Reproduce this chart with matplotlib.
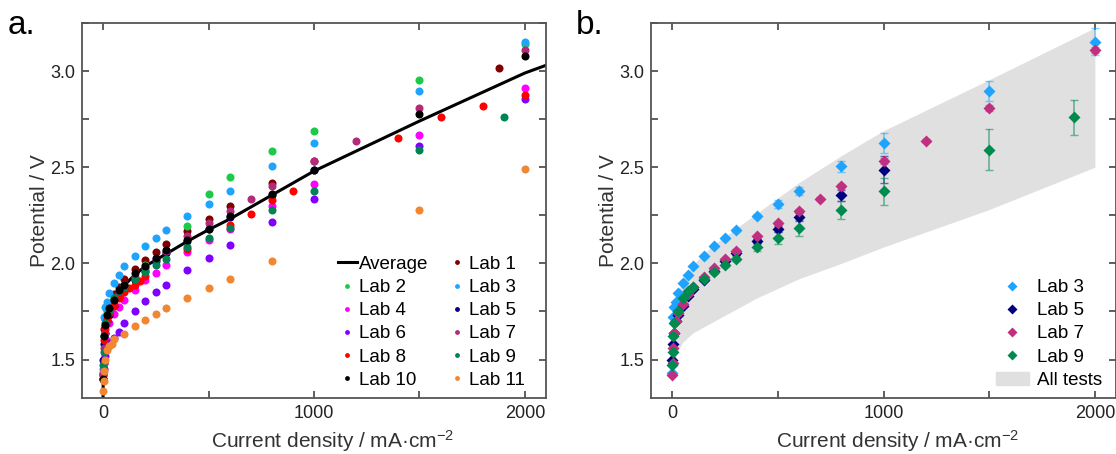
import numpy as np
import matplotlib
matplotlib.use('Agg')
import matplotlib.pyplot as plt
from matplotlib.lines import Line2D
from matplotlib.patches import Patch
from matplotlib.ticker import MultipleLocator, FuncFormatter

plt.rcParams['font.family'] = ['Liberation Sans', 'DejaVu Sans']
plt.rcParams['mathtext.fontset'] = 'custom'
plt.rcParams['mathtext.rm'] = 'Liberation Sans'
plt.rcParams['mathtext.it'] = 'Liberation Sans:italic'

# ---- data (current density mA/cm2, potential V) ----
avg_j = [0, 1, 2, 5, 10, 20, 30, 50, 75, 100, 150, 200, 300, 400, 500, 600, 800, 1000, 1500, 2000, 2100]
avg_v = [1.31, 1.45, 1.52, 1.60, 1.66, 1.72, 1.76, 1.81, 1.85, 1.885, 1.94, 1.985, 2.05, 2.115, 2.175,
         2.23, 2.355, 2.48, 2.74, 2.99, 3.03]

lab1_j = [0, 5, 10, 20, 30, 50, 75, 100, 150, 200, 250, 300, 400, 500, 600, 800, 1000, 1875]
lab1_v = [1.40, 1.66, 1.71, 1.76, 1.79, 1.84, 1.875, 1.917, 1.972, 2.017, 2.06, 2.099, 2.167, 2.23, 2.30,
          2.42, 2.53, 3.014]

lab2_j = [0, 5, 10, 20, 50, 100, 200, 300, 400, 500, 600, 800, 1000, 1500, 2000]
lab2_v = [1.45, 1.62, 1.68, 1.74, 1.82, 1.89, 1.99, 2.06, 2.194, 2.36, 2.45, 2.585, 2.69, 2.953, 3.14]

lab3_j = [0, 5, 10, 20, 30, 50, 75, 100, 150, 200, 250, 300, 400, 500, 600, 800, 1000, 1500, 2000]
lab3_v = [1.43, 1.72, 1.775, 1.80, 1.845, 1.90, 1.94, 1.985, 2.04, 2.09, 2.13, 2.172, 2.246, 2.31, 2.375,
          2.505, 2.625, 2.897, 3.153]
lab3_err = [0, 0, 0, 0, 0, 0, 0, 0, 0, 0.005, 0.005, 0.008, 0.01, 0.02, 0.02, 0.03, 0.052, 0.05, 0.07]

lab4_j = [0, 5, 10, 15, 30, 50, 75, 100, 150, 200, 250, 300, 400, 500, 600, 800, 1000, 1500, 2000]
lab4_v = [1.43, 1.50, 1.54, 1.60, 1.69, 1.735, 1.775, 1.81, 1.86, 1.911, 1.948, 1.99, 2.058, 2.12, 2.18,
          2.30, 2.415, 2.67, 2.913]

lab5_j = [0, 5, 10, 20, 30, 50, 75, 100, 150, 200, 250, 300, 400, 500, 600, 800, 1000]
lab5_v = [1.50, 1.58, 1.64, 1.70, 1.73, 1.78, 1.83, 1.868, 1.915, 1.962, 2.01, 2.054, 2.118, 2.18, 2.241,
          2.354, 2.488]
lab5_err = [0, 0, 0, 0, 0, 0, 0, 0, 0.005, 0.008, 0.008, 0.01, 0.01, 0.015, 0.02, 0.03, 0.07]

lab6_j = [0, 2, 5, 10, 20, 30, 50, 75, 100, 150, 200, 250, 300, 400, 500, 600, 800, 1000, 1500, 2000]
lab6_v = [1.42, 1.45, 1.48, 1.52, 1.56, 1.585, 1.61, 1.642, 1.69, 1.752, 1.804, 1.85, 1.887, 1.965, 2.03,
          2.095, 2.215, 2.335, 2.61, 2.853]

lab7_j = [0, 2, 5, 10, 20, 30, 50, 75, 100, 150, 200, 250, 300, 400, 500, 600, 700, 800, 1000, 1200, 1500, 2000]
lab7_v = [1.42, 1.48, 1.56, 1.64, 1.70, 1.74, 1.79, 1.84, 1.875, 1.93, 1.976, 2.022, 2.066, 2.14, 2.21,
          2.274, 2.337, 2.40, 2.531, 2.639, 2.81, 3.108]
lab7_err = [0, 0, 0, 0, 0, 0, 0, 0, 0, 0, 0.005, 0.005, 0.008, 0.01, 0.01, 0.01, 0.01, 0.012, 0.015, 0.01,
            0.015, 0.015]

lab8_j = [0, 5, 10, 20, 30, 50, 75, 100, 125, 150, 175, 200, 400, 600, 700, 800, 900, 1400, 1600, 1800, 2000]
lab8_v = [1.40, 1.60, 1.66, 1.71, 1.74, 1.78, 1.82, 1.85, 1.87, 1.89, 1.91, 1.935, 2.073, 2.20, 2.255,
          2.33, 2.375, 2.65, 2.76, 2.82, 2.875]

lab9_j = [0, 2, 5, 10, 30, 50, 75, 100, 150, 200, 250, 300, 400, 500, 600, 800, 1000, 1500, 1900]
lab9_v = [1.47, 1.54, 1.62, 1.69, 1.75, 1.82, 1.854, 1.875, 1.92, 1.955, 1.99, 2.024, 2.083, 2.132, 2.184,
          2.28, 2.375, 2.592, 2.76]
lab9_err = [0, 0, 0, 0, 0, 0, 0, 0, 0.005, 0.008, 0.01, 0.012, 0.02, 0.03, 0.04, 0.047, 0.07, 0.108, 0.09]

lab10_j = [0, 5, 10, 20, 30, 50, 75, 100, 150, 200, 250, 300, 400, 500, 600, 800, 1000, 1500, 2000]
lab10_v = [1.40, 1.62, 1.68, 1.73, 1.77, 1.81, 1.86, 1.89, 1.948, 1.986, 2.03, 2.07, 2.12, 2.18, 2.245,
           2.36, 2.485, 2.775, 3.076]

lab11_j = [0, 2, 5, 10, 20, 30, 40, 50, 100, 150, 200, 250, 300, 400, 500, 600, 800, 1500, 2000]
lab11_v = [1.335, 1.387, 1.44, 1.50, 1.55, 1.57, 1.58, 1.608, 1.635, 1.672, 1.705, 1.736, 1.766, 1.818,
           1.87, 1.92, 2.01, 2.28, 2.493]

band_j = [0, 5, 10, 20, 30, 50, 100, 150, 200, 250, 300, 400, 500, 600, 800, 1000, 1500, 2000]
band_lo = [1.40, 1.45, 1.48, 1.52, 1.55, 1.59, 1.64, 1.67, 1.70, 1.73, 1.76, 1.82, 1.87, 1.92, 2.00, 2.085,
           2.28, 2.50]
band_hi = [1.60, 1.74, 1.79, 1.82, 1.86, 1.91, 1.995, 2.05, 2.10, 2.14, 2.18, 2.26, 2.34, 2.42, 2.56, 2.69,
           2.955, 3.225]

labs = ['Lab 1', 'Lab 2', 'Lab 3', 'Lab 4', 'Lab 5', 'Lab 6', 'Lab 7', 'Lab 8', 'Lab 9', 'Lab 10', 'Lab 11']
colors = ['#800000', '#1ec94a', '#1ea4ff', '#ff00ff', '#000080', '#8000ff', '#b22a78', '#ff0000',
          '#008552', '#000000', '#f08733']
lab_j = [lab1_j, lab2_j, lab3_j, lab4_j, lab5_j, lab6_j, lab7_j, lab8_j, lab9_j, lab10_j, lab11_j]
lab_v = [lab1_v, lab2_v, lab3_v, lab4_v, lab5_v, lab6_v, lab7_v, lab8_v, lab9_v, lab10_v, lab11_v]

sel = ['Lab 3', 'Lab 5', 'Lab 7', 'Lab 9']
sel_j = [lab3_j, lab5_j, lab7_j, lab9_j]
sel_v = [lab3_v, lab5_v, lab7_v, lab9_v]
sel_err = [lab3_err, lab5_err, lab7_err, lab9_err]
sel_colors = ['#1ea4ff', '#000080', '#c03080', '#008a50']

fig = plt.figure(figsize=(11.16, 4.54), dpi=100)
ax1 = fig.add_axes([82 / 1116, 56 / 454, 464 / 1116, 375 / 454])
ax2 = fig.add_axes([651 / 1116, 56 / 454, 465 / 1116, 375 / 454])


def style(ax, xlab_pos):
    ax.set_xlim(-100, 2100)
    ax.set_ylim(1.3, 3.25)
    ax.xaxis.set_major_locator(MultipleLocator(500))
    ax.yaxis.set_major_locator(MultipleLocator(0.25))
    ax.xaxis.set_major_formatter(FuncFormatter(lambda v, p: '%d' % v if abs(v % 1000) < 1e-6 else ''))
    ax.yaxis.set_major_formatter(FuncFormatter(lambda v, p: '%.1f' % v if abs(v * 2 - round(v * 2)) < 1e-6 else ''))
    ax.tick_params(direction='in', top=True, right=True, length=5, width=1.2, color='#444444',
                   labelsize=13, pad=5, labelcolor='#222222')
    for s in ax.spines.values():
        s.set_color('#555555')
        s.set_linewidth(1.3)
    ax.set_xlabel('Current density / mA·cm$^{-2}$', fontsize=15, color='#333333')
    ax.set_ylabel('Potential / V', fontsize=15, color='#333333', labelpad=1)
    ax.xaxis.set_label_coords(xlab_pos, -0.08)


# ---- panel a ----
style(ax1, 0.54)
ax1.plot(avg_j, avg_v, color='black', lw=2.2, zorder=2)
hs = {}
for name, c, j, v in zip(labs, colors, lab_j, lab_v):
    hs[name], = ax1.plot(j, v, 'o', ms=5.8, color=c, mec='none', zorder=3, label=name)
avg_h = Line2D([], [], color='black', lw=2.2)
order = [avg_h, hs['Lab 2'], hs['Lab 4'], hs['Lab 6'], hs['Lab 8'], hs['Lab 10'],
         hs['Lab 1'], hs['Lab 3'], hs['Lab 5'], hs['Lab 7'], hs['Lab 9'], hs['Lab 11']]
names = ['Average', 'Lab 2', 'Lab 4', 'Lab 6', 'Lab 8', 'Lab 10',
         'Lab 1', 'Lab 3', 'Lab 5', 'Lab 7', 'Lab 9', 'Lab 11']
ax1.legend(order, names, ncol=2, loc='lower right', frameon=False, fontsize=13.5,
           handlelength=1.0, handletextpad=0.15, columnspacing=1.0, labelspacing=0.32,
           markerscale=0.6, borderaxespad=0.1, bbox_to_anchor=(0.975, 0.0))

# ---- panel b ----
style(ax2, 0.53)
ax2.fill_between(band_j, band_lo, band_hi, color='#e0e0e0', lw=0, zorder=1)
handles = []
for name, c, j, v, e in zip(sel, sel_colors, sel_j, sel_v, sel_err):
    ax2.errorbar(j, v, yerr=e, fmt='none', ecolor=c, alpha=0.55, elinewidth=1.2, capsize=3, zorder=2)
    ax2.plot(j, v, 'D', ms=6.5, color=c, mec='none', zorder=3)
    handles.append(Line2D([], [], marker='D', ls='none', ms=5, color=c, mec='none'))
handles.append(Patch(color='#e0e0e0'))
ax2.legend(handles, sel + ['All tests'], loc='lower right', frameon=False, fontsize=13.5,
           handlelength=1.8, handletextpad=0.4, labelspacing=0.32, borderaxespad=0.1,
           bbox_to_anchor=(0.99, 0.0))

fig.text(8 / 1116, 1 - 25 / 454, 'a.', fontsize=24, va='center', ha='left')
fig.text(576 / 1116, 1 - 25 / 454, 'b.', fontsize=24, va='center', ha='left')

fig.savefig('out.png', dpi=100)
